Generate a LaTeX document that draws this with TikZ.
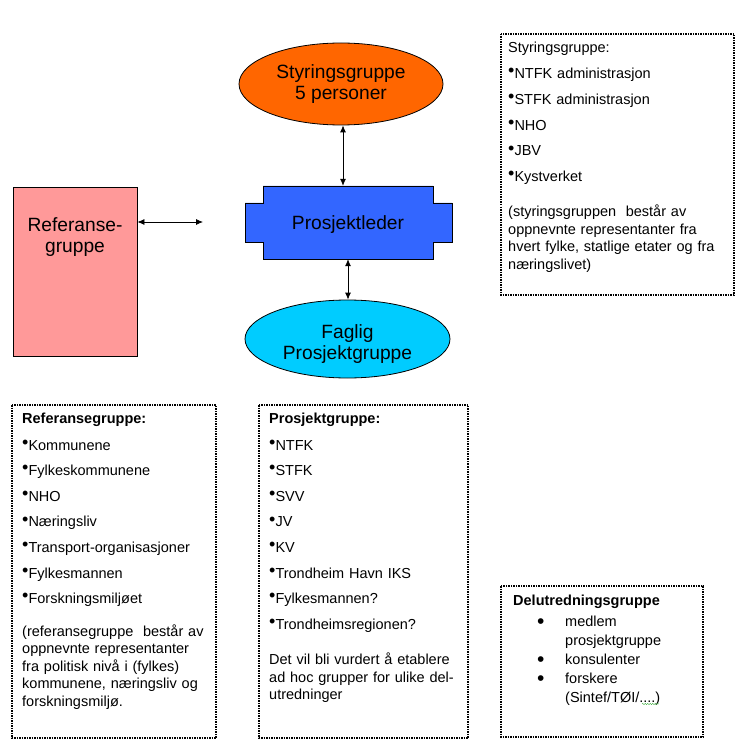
\documentclass[tikz,border=0pt]{standalone}
\usepackage{fontspec}
\setmainfont{Liberation Sans}
\usetikzlibrary{shapes.geometric,arrows.meta,decorations.pathmorphing}

\definecolor{styrfarge}{HTML}{FF6600}
\definecolor{lederfarge}{HTML}{3366FF}
\definecolor{faglfarge}{HTML}{00CCFF}
\definecolor{reffarge}{HTML}{FF9999}
\definecolor{stavefarge}{HTML}{33AA33}

\newcommand{\prikk}{\raisebox{1.8pt}{\fontsize{18}{18}\selectfont •}}
\newcommand{\storprikk}{\makebox[28pt][l]{\raisebox{-1.5pt}{\fontsize{21}{21}\selectfont •}}}

\begin{document}
\begin{tikzpicture}[x=1pt, y=-1pt, font=\fontsize{14.5}{17.5}\selectfont,
        boks/.style={draw, densely dotted, line width=1.5pt},
        liste/.style={anchor=base west, inner sep=0pt, align=left, text width=#1},
        stor/.style={align=center, font=\fontsize{19.2}{21}\selectfont},
        pil/.style={{Latex[length=7pt,width=6pt]}-{Latex[length=7pt,width=6pt]}, line width=0.8pt}]
    \useasboundingbox (0,0) rectangle (755,754);

    % figurene
    \node[draw, ellipse, fill=styrfarge, line width=0.8pt, minimum width=204pt, minimum height=82pt, inner sep=0pt, stor] (styr) at (341,84) {Styringsgruppe\\5 personer};
    \draw[fill=lederfarge, line width=0.8pt] (263,186) -| (433,203) -| (452,242) -| (433,259) -| (263,242) -| (245,203) -| (263,186) -- cycle;
    \node[stor, minimum width=170pt, minimum height=73pt, inner sep=0pt, text depth=0pt] (leder) at (348,222.5) {Prosjektleder};
    \node[draw, ellipse, fill=faglfarge, line width=0.8pt, minimum width=205pt, minimum height=78pt, inner sep=0pt] (fag) at (347.5,339) {};
    \node[stor] (fagtekst) at (347.5,344) {Faglig\\Prosjektgruppe};
    \node[draw, fill=reffarge, line width=0.8pt, minimum width=124pt, minimum height=169pt, inner sep=0pt] (ref) at (75,271.5) {};
    \node[stor] (reftekst) at (75,237.5) {Referanse-\\gruppe};

    % piler
    \coordinate (styrpil) at ([xshift=2pt]styr.south);
    \coordinate (refpil) at (203,222);
    \draw[pil] (styrpil) -- (styrpil |- leder.north);
    \draw[pil] (leder.south) -- (leder.south |- fag.north);
    \draw[pil] (ref.east |- refpil) -- (refpil);

    % tekstboksene
    \draw[boks] (501,34) rectangle (734,295);
    \node[liste=220pt] (styrliste) at (508,52.7) {Styringsgruppe:\\[8.3pt]
        \prikk NTFK administrasjon\\[8.3pt]
        \prikk STFK administrasjon\\[8.3pt]
        \prikk NHO\\[8.3pt]
        \prikk JBV\\[8.3pt]
        \prikk Kystverket\\[17.5pt]
        (styringsgruppen \ består av\\
        oppnevnte representanter fra\\
        hvert fylke, statlige etater og fra\\
        næringslivet)};

    \draw[boks] (12,405) rectangle (216,738);
    \node[liste=200pt] (refliste) at (22,423.3) {\textbf{Referansegruppe:}\\[9.2pt]
        \prikk Kommunene\\[8.1pt]
        \prikk Fylkeskommunene\\[8.1pt]
        \prikk NHO\\[8.1pt]
        \prikk Næringsliv\\[8.1pt]
        \prikk Transport-organisasjoner\\[8.1pt]
        \prikk Fylkesmannen\\[8.1pt]
        \prikk Forskningsmiljøet\\[14.9pt]
        (referansegruppe \ består av\\
        oppnevnte representanter\\
        fra politisk nivå i (fylkes)\\
        kommunene, næringsliv og\\
        forskningsmiljø.};

    \draw[boks] (259,405) rectangle (468,738);
    \node[liste=200pt] (prosliste) at (269,423.3) {\textbf{Prosjektgruppe:}\\[9.2pt]
        \prikk NTFK\\[8.1pt]
        \prikk STFK\\[8.1pt]
        \prikk SVV\\[8.1pt]
        \prikk JV\\[8.1pt]
        \prikk KV\\[8.1pt]
        \prikk Trondheim Havn IKS\\[8.1pt]
        \prikk Fylkesmannen?\\[8.1pt]
        \prikk Trondheimsregionen?\\[17.8pt]
        Det vil bli vurdert å etablere\\
        ad hoc grupper for ulike del-\\
        utredninger};

    \draw[boks] (501,586) rectangle (703,737);
    \node[liste=190pt, font=\fontsize{14.5}{19}\selectfont] (delliste) at (513,605) {\textbf{Delutredningsgruppe}\\[2.7pt]
        \hspace*{24pt}\storprikk medlem\\
        \hspace*{52pt}prosjektgruppe\\
        \hspace*{24pt}\storprikk konsulenter\\
        \hspace*{24pt}\storprikk forskere\\
        \hspace*{52pt}(Sintef/TØI/....)};
    \draw[stavefarge, decorate, decoration={snake, amplitude=0.6pt, segment length=2.5pt}] (642,704) -- (659,704);
\end{tikzpicture}
\end{document}
